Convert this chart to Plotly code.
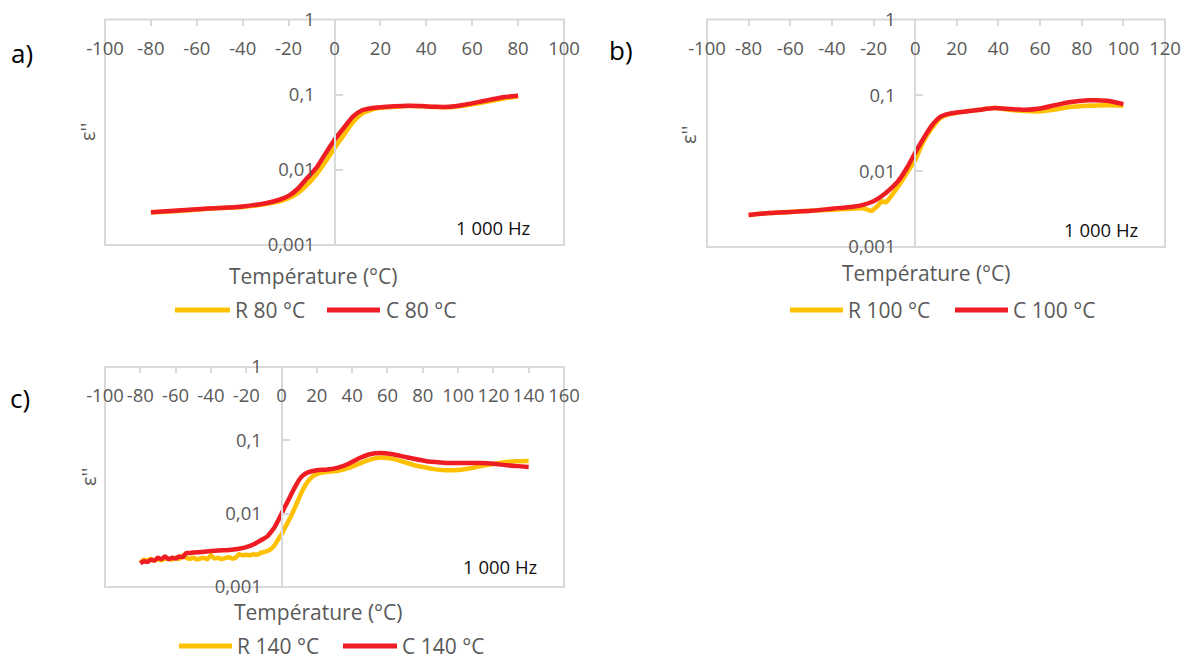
import plotly.graph_objects as go

# ---------------- data ----------------
T_R80 = [-80, -70, -60, -50, -40, -30, -24, -20, -16, -12, -8, -4, 0, 4, 8, 12, 16, 20, 26, 32, 38, 44, 50, 56, 62, 68, 74, 80]
R80 = [0.0027, 0.00282, 0.00295, 0.0031, 0.0032, 0.0035, 0.0038, 0.0042, 0.0049, 0.0063, 0.0086, 0.0127, 0.0195, 0.029,
       0.043, 0.056, 0.063, 0.067, 0.069, 0.0705, 0.070, 0.0685, 0.068, 0.071, 0.076, 0.082, 0.089, 0.095]
T_C80 = [-80, -70, -60, -50, -40, -30, -24, -20, -16, -12, -8, -4, 0, 4, 8, 12, 16, 20, 26, 32, 38, 44, 50, 56, 62, 68, 74, 80]
C80 = [0.00273, 0.00285, 0.003, 0.0031, 0.00325, 0.0036, 0.0040, 0.0045, 0.0056, 0.0077, 0.0105, 0.0163, 0.025, 0.036,
       0.051, 0.062, 0.066, 0.068, 0.070, 0.0712, 0.0705, 0.069, 0.069, 0.073, 0.079, 0.086, 0.093, 0.097]

T_R100 = [-80, -70, -60, -50, -40, -30, -25, -21, -18, -16, -14, -12, -8, -4, 0, 4, 8, 12, 16, 20, 30, 38, 46, 53, 60, 67, 74, 83, 92, 100]
R100 = [0.00265, 0.0028, 0.0029, 0.0030, 0.0031, 0.0032, 0.00325, 0.0030, 0.0035, 0.0040, 0.0039, 0.0045, 0.0064, 0.0095,
        0.0141, 0.0247, 0.037, 0.050, 0.056, 0.059, 0.064, 0.068, 0.064, 0.062, 0.0615, 0.065, 0.070, 0.073, 0.074, 0.073]
T_C100 = [-80, -70, -60, -50, -40, -30, -25, -20, -16, -12, -8, -4, 0, 4, 8, 12, 16, 20, 30, 38, 46, 53, 60, 67, 74, 83, 92, 100]
C100 = [0.00265, 0.0028, 0.0029, 0.0030, 0.0032, 0.0034, 0.0036, 0.0040, 0.0047, 0.0058, 0.0075, 0.011, 0.0175, 0.027,
        0.040, 0.052, 0.057, 0.0595, 0.064, 0.068, 0.066, 0.0645, 0.067, 0.074, 0.081, 0.086, 0.085, 0.0767]

T_R140 = [-80, -78, -76, -74, -72, -70, -68, -66, -64, -62, -60, -58, -56, -54, -52, -50, -48, -46, -44, -42, -40, -38,
          -36, -34, -32, -30, -28, -26, -24, -22, -20, -18, -16, -14, -12, -10, -8, -6, -4, -2, 0, 2, 4, 6, 8, 10, 12,
          14, 16, 18, 22, 26, 32, 38, 44, 50, 55, 60, 65, 70, 75, 80, 86, 93, 100, 108, 116, 125, 133, 140]
R140 = [0.00215, 0.00235, 0.0023, 0.0024, 0.00228, 0.0024, 0.00232, 0.00245, 0.0024, 0.00238, 0.0025, 0.00242, 0.0027,
        0.0025, 0.00242, 0.0025, 0.00238, 0.00245, 0.0025, 0.0024, 0.0027, 0.00245, 0.0025, 0.0024, 0.00248, 0.00255,
        0.00245, 0.0025, 0.0028, 0.0027, 0.00275, 0.0027, 0.0028, 0.00275, 0.0029, 0.0030, 0.0031, 0.0033, 0.0037,
        0.0044, 0.0052, 0.0065, 0.0080, 0.0100, 0.0128, 0.0165, 0.021, 0.0255, 0.0295, 0.0328, 0.036, 0.0372, 0.0385,
        0.042, 0.048, 0.0545, 0.058, 0.0575, 0.0545, 0.050, 0.046, 0.0433, 0.0405, 0.039, 0.0395, 0.042, 0.046, 0.050,
        0.0518, 0.0523]
T_C140 = [-80, -78, -76, -74, -72, -70, -68, -66, -64, -62, -60, -58, -56, -54, -52, -50, -45, -40, -35, -30, -25, -20,
          -16, -12, -8, -6, -4, -2, 0, 2, 4, 6, 8, 10, 12, 15, 20, 26, 32, 38, 44, 50, 56, 62, 68, 75, 82, 90, 96, 105,
          113, 120, 128, 134, 140]
C140 = [0.0021, 0.00225, 0.0022, 0.00235, 0.0023, 0.0025, 0.0024, 0.0026, 0.0024, 0.0025, 0.00245, 0.0026, 0.00255,
        0.0029, 0.0029, 0.00295, 0.003, 0.0031, 0.00315, 0.0032, 0.0033, 0.0035, 0.0038, 0.0043, 0.0049, 0.0056,
        0.0065, 0.0080, 0.010, 0.0125, 0.0155, 0.0195, 0.024, 0.029, 0.033, 0.0365, 0.039, 0.040, 0.0424, 0.048, 0.057,
        0.0645, 0.0672, 0.065, 0.061, 0.056, 0.052, 0.050, 0.049, 0.049, 0.049, 0.048, 0.0456, 0.0445, 0.0433]

Y_TICKVALS = [0.001, 0.01, 0.1, 1]
Y_TICKTEXT = ["0,001", "0,01", "0,1", "1"]
LABELS = ["a)", "b)", "c)"]
X_TITLE = "Température (°C)"
Y_TITLE = "ε''"
FREQ = "1 000 Hz"

# ---------------- layout constants ----------------
W, H = 1184, 661
YELLOW = "#FFC000"
RED = "#EE1D23"
GRAY = "#595959"
LINE = "#D9D9D9"
FONT = "Open Sans"

def px(x):
    return x / W

def py(y):
    return 1 - y / H

# pixel geometry of each panel (layout only)
panels = [
    dict(l=105, r=564, t=19.5, b=245, xr=(-100, 100),
         series=[("R 80 °C", T_R80, R80, YELLOW), ("C 80 °C", T_C80, C80, RED)],
         label=(22, 53), ytitle=(88, 132), xtitle=(313, 276), freq=(493, 227),
         leg_y=310, leg=[(175, 230, 233), (327, 380, 384)]),
    dict(l=707, r=1165, t=19.5, b=247, xr=(-100, 120),
         series=[("R 100 °C", T_R100, R100, YELLOW), ("C 100 °C", T_C100, C100, RED)],
         label=(621, 50), ytitle=(688, 135), xtitle=(926, 273), freq=(1101, 229),
         leg_y=310, leg=[(790, 843, 846), (955, 1008, 1011)]),
    dict(l=105, r=564, t=367, b=587, xr=(-100, 160),
         series=[("R 140 °C", T_R140, R140, YELLOW), ("C 140 °C", T_C140, C140, RED)],
         label=(20, 398), ytitle=(89, 477), xtitle=(318, 612), freq=(500, 566),
         leg_y=646, leg=[(179, 232, 235), (343, 397, 400)]),
]

minor_vals = [m * 10 ** e for e in range(-3, 0) for m in range(2, 10)]

fig = go.Figure()
annotations = []
shapes = []
layout_axes = {}

for i, p in enumerate(panels):
    n = "" if i == 0 else str(i + 1)
    xa, ya = "x" + n, "y" + n
    for name, tx, vals, col in p["series"]:
        fig.add_trace(go.Scatter(x=tx, y=vals, mode="lines", name=name, showlegend=False,
                                 line=dict(color=col, width=4.5, shape="spline", smoothing=0.6),
                                 xaxis=xa, yaxis=ya))
    xd = [px(p["l"]), px(p["r"])]
    yd = [py(p["b"]), py(p["t"])]
    xmin, xmax = p["xr"]
    xt = list(range(xmin, xmax + 1, 20))
    ypos = xd[0] + (0 - xmin) / (xmax - xmin) * (xd[1] - xd[0])
    layout_axes["xaxis" + n] = dict(
        domain=xd, range=[xmin, xmax], tickmode="array", tickvals=xt, ticktext=[str(v) for v in xt],
        side="top", anchor=ya, automargin=False,
        ticks="inside", ticklen=6, tickcolor=LINE, tickwidth=1.5,
        ticklabelposition="inside", ticklabelstandoff=17, ticklabeloverflow="allow", tickangle=0,
        showgrid=False, zeroline=False, showline=False,
        tickfont=dict(family=FONT, size=18.5, color=GRAY))
    layout_axes["yaxis" + n] = dict(
        domain=yd, type="log", range=[-3, 0], anchor="free", position=ypos, automargin=False,
        tickmode="array", tickvals=Y_TICKVALS, ticktext=Y_TICKTEXT,
        ticks="inside", ticklen=7, tickcolor=LINE, tickwidth=1.5,
        ticklabelstandoff=15, ticklabeloverflow="allow",
        showline=True, linecolor=LINE, linewidth=2, showgrid=False, zeroline=False,
        tickfont=dict(family=FONT, size=18.5, color=GRAY))
    # overlay axis carrying the logarithmic minor ticks
    mi = str(i + 4)
    layout_axes["yaxis" + mi] = dict(
        domain=yd, type="log", range=[-3, 0], anchor="free", position=ypos, automargin=False,
        overlaying=ya, tickmode="array", tickvals=minor_vals, showticklabels=False,
        ticks="inside", ticklen=4, tickcolor=LINE, tickwidth=1,
        showline=False, showgrid=False, zeroline=False)
    shapes.append(dict(type="rect", xref=xa + " domain", yref=ya + " domain", x0=0, x1=1, y0=0, y1=1,
                       line=dict(color=LINE, width=2), layer="below"))
    # legend keys (line sample + label) under each panel
    for (x0, x1, xt0), (name, _, _, col) in zip(p["leg"], p["series"]):
        shapes.append(dict(type="line", xref="paper", yref="paper",
                           x0=px(x0), x1=px(x1), y0=py(p["leg_y"]), y1=py(p["leg_y"]),
                           line=dict(color=col, width=5)))
        annotations.append(dict(text=name, x=px(xt0), y=py(p["leg_y"]), xref="paper", yref="paper",
                                showarrow=False, xanchor="left", yanchor="middle",
                                font=dict(family=FONT, size=21, color=GRAY)))
    annotations += [
        dict(text=LABELS[i], x=px(p["label"][0]), y=py(p["label"][1]), xref="paper", yref="paper",
             showarrow=False, xanchor="center", yanchor="middle",
             font=dict(family=FONT, size=26, color="#000000")),
        dict(text=Y_TITLE, x=px(p["ytitle"][0]), y=py(p["ytitle"][1]), xref="paper", yref="paper",
             showarrow=False, textangle=-90, xanchor="center", yanchor="middle",
             font=dict(family=FONT, size=20, color=GRAY)),
        dict(text=X_TITLE, x=px(p["xtitle"][0]), y=py(p["xtitle"][1]), xref="paper", yref="paper",
             showarrow=False, xanchor="center", yanchor="middle",
             font=dict(family=FONT, size=21, color=GRAY)),
        dict(text=FREQ, x=px(p["freq"][0]), y=py(p["freq"][1]), xref="paper", yref="paper",
             showarrow=False, xanchor="center", yanchor="middle",
             font=dict(family=FONT, size=18.5, color="#111111")),
    ]

fig.update_layout(template="none", width=W, height=H,
                  margin=dict(l=0, r=0, t=0, b=0, autoexpand=False),
                  paper_bgcolor="white", plot_bgcolor="white", showlegend=False,
                  annotations=annotations, shapes=shapes, **layout_axes)

fig.write_html("out.html", config={"displayModeBar": False},
               post_script="document.body.style.margin='0';")
